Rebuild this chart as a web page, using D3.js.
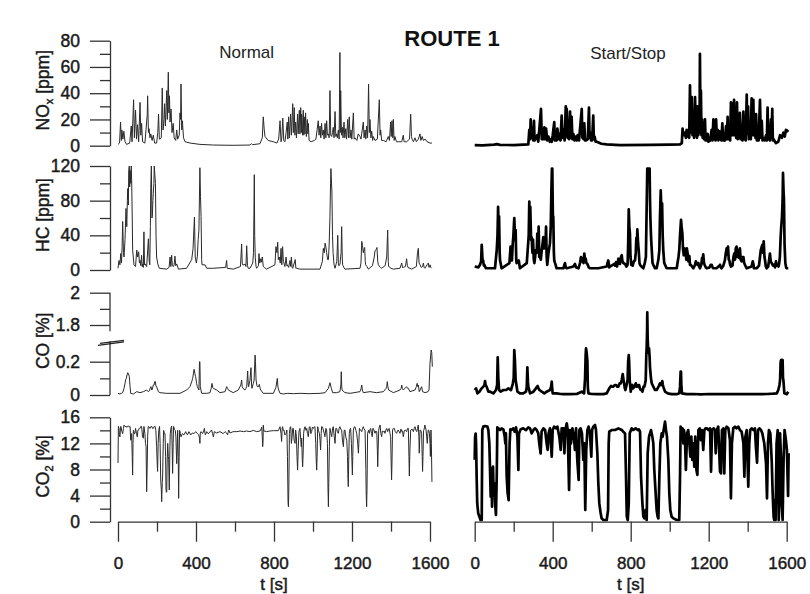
<!DOCTYPE html>
<html>
<head>
<meta charset="utf-8">
<title>Route 1</title>
<script src="https://cdn.jsdelivr.net/npm/d3@7"></script>
<style>
  body { margin: 0; background: #fff; }
  svg { font-family: "Liberation Sans", Arial, sans-serif; }
</style>
</head>
<body>
<script>
// [t (s), value] pairs
var noxNormal = [[0,1],[8,2],[13,18],[17,4],[20,12],[25,5],[30,11],[36,3],[44,1],[60,2],[68,15],[72,3],[80,35],[84,6],[90,27],[95,5],[100,16],[106,3],[113,33],[117,8],[121,17],[126,3],[138,2],[150,24],[152,38],[156,10],[159,13],[164,6],[168,9],[175,4],[181,8],[188,2],[198,2],[204,10],[208,24],[212,5],[222,6],[227,44],[231,12],[236,20],[239,32],[243,15],[247,30],[250,42],[253,20],[258,56],[261,25],[264,38],[267,18],[272,28],[277,10],[283,17],[288,6],[296,4],[301,12],[306,5],[314,8],[318,25],[321,20],[323,47],[327,12],[330,19],[336,6],[344,3],[370,2],[420,1],[490,0.5],[590,0.3],[677,0.5],[685,1.5],[690,0.8],[728,1.5],[740,6],[745,22],[750,12],[754,7],[770,4],[797,3],[815,2],[824,5],[831,19],[836,3],[840,6],[845,21],[850,4],[856,3],[862,10],[868,18],[871,5],[875,22],[879,6],[885,24],[889,8],[896,32],[899,10],[904,29],[907,8],[911,18],[915,6],[921,24],[924,9],[930,27],[933,9],[937,29],[940,10],[942,24],[946,8],[950,27],[953,8],[955,22],[959,9],[962,25],[966,7],[971,20],[974,9],[976,17],[980,4],[990,3],[1007,4],[1015,5],[1027,19],[1031,8],[1036,15],[1040,6],[1044,17],[1048,8],[1053,12],[1057,5],[1062,17],[1066,6],[1070,19],[1074,8],[1079,9],[1083,6],[1087,42],[1091,8],[1096,7],[1100,10],[1104,14],[1108,6],[1113,26],[1117,7],[1121,9],[1125,6],[1130,12],[1134,5],[1138,71],[1140,10],[1142,42],[1146,8],[1150,14],[1154,6],[1159,18],[1163,6],[1168,13],[1172,5],[1178,20],[1182,6],[1186,22],[1190,6],[1195,12],[1199,5],[1207,25],[1211,5],[1215,6],[1225,4],[1232,9],[1241,7],[1246,5],[1258,18],[1262,6],[1267,12],[1271,5],[1275,15],[1280,6],[1285,47],[1289,10],[1292,20],[1297,6],[1301,11],[1306,4],[1309,7],[1318,4],[1330,5],[1340,35],[1344,8],[1347,12],[1352,4],[1361,4],[1375,3],[1386,7],[1392,4],[1398,18],[1401,7],[1405,19],[1409,6],[1412,20],[1416,4],[1420,7],[1428,3],[1438,3],[1455,3],[1463,8],[1467,3],[1480,3],[1495,5],[1501,24],[1505,7],[1508,5],[1515,3],[1523,6],[1530,3],[1540,5],[1549,9],[1553,4],[1560,7],[1566,4],[1575,5],[1585,3],[1600,2],[1610,2]];

var noxStop = [[0,0.5],[40,0.3],[100,0.8],[113,1.2],[130,0.6],[200,0.5],[275,1],[280,12],[284,5],[287,20],[291,6],[296,13],[300,4],[304,19],[307,4],[315,6],[321,8],[326,3],[340,28],[344,5],[349,12],[353,5],[357,14],[361,5],[366,13],[372,4],[378,7],[385,3],[390,5],[395,3],[400,8],[408,18],[411,4],[415,7],[420,4],[424,13],[429,5],[434,9],[440,4],[446,23],[450,6],[455,12],[461,4],[467,30],[470,8],[472,28],[476,6],[480,14],[484,5],[489,26],[492,6],[497,22],[501,5],[506,9],[512,4],[518,7],[523,4],[528,8],[535,4],[549,28],[552,6],[554,12],[558,5],[562,17],[566,4],[571,4],[580,5],[586,29],[589,6],[593,10],[597,4],[602,4],[608,23],[611,5],[615,7],[620,3],[626,3],[650,1.5],[677,1],[745,0.5],[900,0.6],[1000,0.8],[1053,1],[1062,2],[1066,13],[1070,8],[1078,10],[1083,6],[1087,12],[1091,7],[1096,8],[1100,6],[1104,46],[1108,10],[1113,37],[1117,8],[1121,20],[1125,6],[1130,37],[1134,8],[1137,20],[1140,6],[1143,30],[1147,8],[1150,12],[1153,10],[1155,70],[1158,12],[1160,42],[1163,8],[1166,20],[1169,6],[1172,12],[1176,5],[1181,20],[1184,4],[1186,8],[1190,4],[1195,9],[1199,3],[1202,5],[1208,4],[1215,12],[1219,4],[1224,20],[1228,5],[1231,8],[1235,4],[1238,20],[1242,5],[1246,12],[1250,4],[1255,11],[1258,5],[1261,7],[1265,4],[1270,17],[1274,4],[1278,5],[1283,4],[1289,15],[1293,5],[1297,22],[1301,5],[1306,11],[1310,4],[1314,33],[1317,8],[1321,32],[1325,8],[1330,35],[1333,8],[1337,19],[1341,6],[1345,33],[1349,5],[1354,12],[1357,6],[1360,25],[1364,5],[1369,8],[1373,4],[1378,26],[1382,5],[1386,10],[1390,4],[1395,39],[1398,9],[1402,30],[1406,5],[1412,10],[1416,5],[1420,36],[1424,8],[1429,35],[1432,8],[1436,14],[1440,6],[1443,24],[1447,4],[1451,8],[1456,4],[1463,35],[1467,6],[1472,19],[1476,4],[1480,6],[1488,4],[1494,8],[1498,4],[1502,29],[1505,5],[1509,6],[1514,4],[1519,20],[1522,6],[1526,28],[1529,4],[1533,5],[1540,3],[1545,2],[1557,3],[1566,8],[1575,6],[1583,10],[1590,7],[1596,12],[1602,11],[1608,12]];

var hcNormal = [[0,2],[5,11],[10,6],[14,19],[18,8],[21,27],[24,56],[28,20],[31,15],[36,35],[41,71],[45,50],[48,80],[50,94],[53,75],[55,115],[58,120],[60,96],[62,115],[65,100],[68,120],[70,104],[73,60],[75,23],[82,6],[90,4],[96,23],[101,15],[106,21],[110,8],[113,11],[117,5],[121,17],[124,4],[127,7],[130,3],[133,44],[136,6],[139,7],[147,4],[156,36],[160,10],[163,6],[166,50],[168,94],[171,120],[174,60],[176,62],[179,80],[181,88],[184,100],[186,120],[189,110],[192,100],[195,40],[198,15],[204,7],[212,2],[250,1],[262,3],[267,15],[271,4],[275,17],[279,5],[284,4],[288,6],[292,16],[296,5],[301,7],[310,1],[352,2],[378,12],[385,25],[392,61],[396,15],[402,8],[407,16],[411,35],[415,46],[418,90],[420,118],[423,85],[426,62],[429,12],[431,6],[446,6],[455,2],[489,2],[552,3],[557,11],[560,2],[591,1],[628,4],[634,30],[637,8],[639,6],[648,6],[651,7],[656,4],[660,28],[664,5],[668,2],[677,2],[691,8],[695,20],[699,110],[701,40],[704,14],[708,4],[711,2],[720,5],[723,19],[727,8],[732,13],[736,9],[740,15],[745,4],[750,3],[762,1],[805,6],[810,27],[815,20],[819,32],[822,12],[827,15],[832,8],[836,25],[840,6],[844,27],[848,10],[851,8],[856,4],[862,15],[866,5],[868,6],[875,3],[882,11],[886,4],[889,15],[893,3],[896,2],[909,12],[912,2],[916,2],[933,1],[1036,1],[1048,10],[1053,25],[1058,20],[1062,31],[1066,27],[1070,20],[1075,12],[1079,12],[1083,30],[1087,62],[1090,100],[1092,117],[1094,105],[1097,90],[1100,40],[1103,20],[1108,6],[1113,2],[1122,10],[1127,40],[1130,8],[1132,5],[1138,6],[1144,20],[1147,50],[1150,15],[1152,6],[1158,3],[1164,1],[1241,2],[1246,8],[1250,33],[1254,28],[1258,20],[1262,24],[1265,26],[1268,10],[1270,6],[1277,4],[1284,1],[1305,5],[1314,15],[1318,22],[1321,23],[1325,24],[1328,26],[1332,10],[1335,6],[1345,3],[1352,2],[1370,5],[1378,15],[1383,46],[1386,10],[1388,4],[1400,2],[1412,1],[1446,2],[1452,6],[1455,8],[1459,3],[1463,3],[1474,4],[1480,13],[1484,5],[1487,3],[1506,1],[1530,4],[1536,20],[1540,25],[1544,8],[1549,6],[1555,3],[1562,4],[1566,8],[1570,3],[1574,2],[1585,6],[1591,8],[1595,3],[1600,6],[1604,3],[1608,2]];

var hcStop = [[0,4],[19,3],[27,6],[33,10],[36,29],[40,12],[43,11],[47,5],[49,6],[58,2],[104,2],[113,23],[117,40],[120,73],[123,40],[125,62],[128,20],[130,11],[138,2],[178,8],[184,27],[188,12],[191,11],[195,30],[198,38],[203,60],[207,35],[210,46],[213,12],[215,8],[226,11],[232,2],[267,8],[273,27],[277,40],[280,79],[283,50],[285,73],[289,35],[292,38],[296,20],[299,35],[303,12],[306,8],[310,15],[313,23],[318,20],[321,42],[325,25],[328,50],[331,15],[335,15],[339,12],[344,23],[348,30],[352,38],[356,25],[359,35],[363,30],[366,50],[369,15],[372,6],[375,12],[378,19],[382,25],[386,31],[390,50],[393,88],[396,117],[398,117],[401,60],[403,62],[406,20],[408,11],[412,8],[415,6],[420,2],[455,2],[460,6],[463,8],[467,3],[472,2],[506,4],[512,6],[514,7],[520,3],[532,2],[540,8],[545,15],[549,10],[554,13],[558,8],[562,19],[566,12],[569,13],[573,8],[578,7],[585,3],[591,2],[634,2],[677,4],[681,8],[685,11],[690,3],[694,4],[716,7],[720,5],[725,9],[730,4],[737,13],[741,8],[745,7],[750,15],[754,17],[757,11],[762,8],[771,7],[778,4],[784,6],[787,30],[790,70],[793,50],[796,42],[799,15],[803,6],[810,5],[816,10],[822,11],[826,20],[829,37],[832,30],[834,47],[838,30],[841,23],[845,8],[848,6],[855,4],[865,2],[872,8],[878,15],[881,60],[885,117],[888,117],[890,117],[893,117],[897,117],[899,81],[901,60],[904,40],[907,27],[912,8],[916,6],[925,2],[933,2],[942,12],[947,23],[950,60],[954,92],[957,70],[961,77],[964,40],[967,23],[972,8],[976,6],[984,2],[1036,2],[1045,15],[1049,23],[1053,40],[1058,58],[1061,50],[1065,42],[1068,25],[1072,17],[1075,25],[1078,19],[1082,20],[1085,12],[1088,25],[1092,19],[1096,10],[1101,16],[1104,6],[1108,6],[1121,2],[1130,6],[1134,10],[1138,8],[1143,6],[1147,8],[1151,4],[1155,2],[1162,6],[1166,14],[1169,12],[1172,18],[1176,8],[1179,6],[1185,3],[1190,2],[1205,3],[1210,6],[1215,6],[1220,3],[1224,2],[1240,2],[1250,4],[1258,6],[1262,3],[1266,2],[1275,5],[1283,11],[1288,20],[1292,25],[1296,18],[1299,27],[1303,12],[1306,11],[1310,6],[1314,4],[1322,5],[1327,15],[1331,19],[1335,12],[1339,25],[1343,27],[1347,15],[1352,23],[1356,14],[1360,25],[1364,12],[1369,10],[1373,15],[1378,15],[1382,8],[1386,6],[1395,2],[1420,4],[1426,10],[1430,6],[1432,2],[1446,2],[1458,5],[1463,15],[1467,23],[1471,26],[1475,29],[1478,20],[1482,33],[1486,15],[1489,11],[1493,4],[1497,2],[1505,4],[1510,12],[1514,19],[1518,10],[1523,8],[1530,5],[1535,6],[1540,3],[1545,10],[1549,5],[1554,6],[1558,4],[1561,7],[1565,15],[1569,38],[1572,50],[1576,62],[1579,80],[1581,112],[1584,90],[1586,81],[1589,30],[1593,8],[1597,3],[1600,2],[1608,2]];

var coNormal = [[0,0.01],[10,0.006],[24,0.014],[31,0.04],[36,0.07],[39,0.09],[43,0.1],[46,0.12],[50,0.134],[53,0.13],[58,0.11],[62,0.05],[65,0.01],[79,0.006],[96,0.02],[113,0.014],[130,0.02],[147,0.03],[155,0.02],[161,0.025],[165,0.04],[169,0.05],[173,0.03],[176,0.035],[181,0.06],[185,0.06],[188,0.08],[192,0.08],[195,0.05],[198,0.05],[207,0.02],[215,0.014],[250,0.01],[318,0.01],[352,0.03],[369,0.05],[378,0.08],[383,0.1],[390,0.154],[394,0.13],[398,0.11],[403,0.07],[407,0.05],[415,0.03],[418,0.2],[420,0.2],[422,0.05],[429,0.01],[455,0.01],[472,0.014],[478,0.04],[482,0.07],[486,0.045],[489,0.04],[506,0.03],[523,0.014],[549,0.02],[557,0.05],[562,0.04],[566,0.03],[591,0.014],[617,0.03],[630,0.06],[634,0.09],[637,0.05],[641,0.04],[651,0.03],[656,0.04],[660,0.05],[665,0.144],[668,0.06],[670,0.05],[677,0.09],[682,0.164],[685,0.06],[687,0.04],[694,0.07],[698,0.09],[703,0.49],[705,0.2],[708,0.09],[712,0.06],[715,0.05],[720,0.05],[725,0.064],[729,0.04],[732,0.03],[745,0.01],[797,0.01],[810,0.046],[817,0.1],[820,0.05],[824,0.03],[831,0.01],[848,0.006],[870,0.01],[900,0.008],[933,0.01],[980,0.008],[1036,0.01],[1062,0.014],[1079,0.04],[1087,0.074],[1090,0.06],[1094,0.04],[1101,0.014],[1121,0.014],[1138,0.02],[1143,0.06],[1145,0.14],[1147,0.06],[1149,0.03],[1164,0.014],[1190,0.01],[1241,0.02],[1247,0.04],[1250,0.06],[1253,0.03],[1258,0.014],[1292,0.02],[1326,0.014],[1361,0.02],[1375,0.04],[1378,0.05],[1381,0.08],[1384,0.05],[1388,0.03],[1412,0.014],[1446,0.03],[1452,0.04],[1455,0.06],[1458,0.04],[1463,0.03],[1480,0.05],[1485,0.04],[1489,0.04],[1497,0.02],[1523,0.03],[1530,0.05],[1534,0.07],[1538,0.05],[1540,0.06],[1545,0.02],[1557,0.05],[1562,0.02],[1575,0.014],[1590,0.02],[1595,0.03],[1600,0.19],[1606,0.71],[1609,0.6],[1612,0.17]];

var coStop = [[0,0.03],[7,0.04],[14,0.01],[24,0.02],[36,0.04],[44,0.05],[50,0.06],[53,0.084],[56,0.06],[61,0.05],[70,0.02],[79,0.02],[96,0.01],[109,0.03],[115,0.06],[118,0.39],[121,0.1],[125,0.03],[133,0.02],[147,0.03],[161,0.03],[173,0.04],[186,0.03],[195,0.066],[200,0.1],[203,0.71],[206,0.3],[210,0.09],[219,0.02],[232,0.01],[249,0.01],[263,0.02],[267,0.05],[270,0.166],[273,0.08],[275,0.05],[284,0.01],[301,0.02],[314,0.04],[319,0.05],[323,0.054],[327,0.04],[332,0.03],[344,0.02],[357,0.01],[369,0.02],[386,0.03],[392,0.05],[395,0.08],[398,0.03],[400,0.01],[420,0.01],[440,0.006],[455,0.005],[489,0.005],[523,0.006],[549,0.02],[561,0.01],[566,0.1],[569,0.5],[571,0.78],[574,0.6],[578,0.21],[580,0.05],[583,0.01],[600,0.006],[626,0.005],[660,0.005],[677,0.01],[690,0.04],[699,0.054],[705,0.05],[711,0.05],[718,0.06],[725,0.06],[731,0.05],[737,0.05],[743,0.07],[749,0.07],[754,0.09],[759,0.126],[762,0.1],[766,0.07],[770,0.04],[773,0.03],[779,0.06],[784,0.09],[787,0.2],[790,0.49],[792,0.2],[795,0.09],[800,0.02],[804,0.05],[808,0.06],[813,0.04],[819,0.05],[826,0.07],[830,0.05],[834,0.05],[839,0.06],[843,0.06],[847,0.04],[851,0.03],[856,0.03],[860,0.02],[866,0.05],[870,0.05],[874,0.07],[877,0.09],[880,0.5],[882,0.85],[884,1.5],[885,1.878],[887,1.2],[889,0.85],[892,0.6],[894,0.78],[897,0.4],[899,0.166],[904,0.1],[908,0.07],[912,0.06],[916,0.05],[925,0.03],[933,0.03],[943,0.05],[950,0.07],[956,0.06],[962,0.084],[965,0.06],[967,0.05],[976,0.02],[990,0.01],[1010,0.005],[1036,0.005],[1049,0.01],[1053,0.05],[1056,0.14],[1058,0.14],[1060,0.05],[1063,0.01],[1087,0.005],[1120,0.006],[1160,0.004],[1200,0.006],[1250,0.005],[1300,0.006],[1350,0.005],[1400,0.006],[1450,0.005],[1500,0.006],[1530,0.008],[1549,0.01],[1557,0.03],[1563,0.06],[1566,0.09],[1569,0.2],[1571,0.27],[1575,0.28],[1579,0.27],[1581,0.1],[1583,0.09],[1588,0.01],[1600,0.005],[1608,0.02]];

var co2Normal = [[0,9],[2,14.6],[5,14.3],[7,13.3],[10,13],[13,14.5],[15,14.6],[20,13.8],[24,13.5],[28,14.3],[31,14.8],[36,14.6],[41,14.6],[47,14.5],[53,14.7],[58,14.5],[62,14.6],[65,12.5],[67,12.5],[70,13.5],[73,10],[75,7.15],[77,12],[79,14],[84,13.5],[87,13.5],[90,14.3],[95,13.5],[99,13],[102,14],[104,14],[109,14.3],[113,14.3],[117,14.6],[121,14.6],[126,13],[130,12.8],[133,14.6],[138,13.5],[141,12],[144,11.5],[147,4.6],[150,9],[152,13],[155,14.6],[160,14.5],[164,14.3],[169,14.6],[173,14.6],[177,14.3],[181,14.3],[186,14.6],[190,14.6],[194,14],[198,11.5],[201,9],[203,7.7],[206,12],[209,14],[213,14.6],[216,12],[219,6.4],[222,5],[224,3.07],[227,6],[229,7],[232,12],[234,14],[238,13.5],[241,13.5],[244,10],[246,5],[248,4.5],[250,4.6],[252,9],[255,12],[258,10],[260,9.5],[262,6],[263,4.85],[266,11],[268,13.5],[272,14.4],[275,14.67],[278,11],[280,7.4],[283,12],[285,14.6],[290,14.1],[294,14],[297,13],[301,8.9],[304,11],[306,14],[309,10],[311,3.58],[313,9],[316,14],[320,13.5],[323,13],[330,13.5],[338,13.3],[347,13.8],[356,13.3],[364,13.8],[373,13.3],[381,13.6],[390,13.5],[398,13.8],[407,13.5],[414,13.3],[418,12.8],[420,12],[422,13.6],[426,13.8],[434,13.5],[440,14],[443,14.3],[446,13.6],[448,13.3],[455,13.8],[462,13.5],[468,13.6],[475,13.9],[480,14.05],[485,13.5],[489,13],[491,13.3],[494,13.8],[506,13.6],[523,13.8],[540,13.5],[549,13.8],[557,13.6],[562,13.3],[565,13.7],[568,14.05],[574,13.6],[591,13.8],[609,13.8],[626,13.9],[643,13.8],[660,13.9],[677,13.8],[694,14],[711,13.8],[728,13.9],[735,14.3],[737,14.5],[740,13],[742,11.5],[744,12.5],[745,14.8],[748,13.9],[762,13.8],[779,13.9],[797,13.95],[822,13.95],[831,14.56],[836,13.5],[839,12.3],[842,14.3],[844,14.56],[848,14],[851,14.05],[856,13.3],[862,13.54],[866,14.05],[869,10],[872,3],[874,2.3],[876,5],[879,13.54],[883,14.5],[886,14.56],[889,12],[892,12.8],[896,14.3],[899,14.3],[903,12.5],[908,12],[911,14.05],[915,13],[918,10],[921,7.9],[924,11],[928,13.8],[933,14.3],[937,12.6],[940,11.5],[942,12.8],[945,9.5],[947,8.43],[950,11],[952,13.54],[955,14.2],[959,14.56],[964,14],[968,14.3],[972,13.5],[976,13.03],[981,14.5],[985,14.56],[989,13.5],[993,13.8],[997,14.5],[1002,14.3],[1006,14.5],[1010,14.56],[1014,12],[1017,9],[1019,7.9],[1021,10],[1024,14.56],[1028,14],[1033,13.54],[1036,12.5],[1039,11],[1042,13.5],[1044,14.56],[1049,14.5],[1053,14.05],[1058,13.5],[1061,13.03],[1066,14.3],[1070,14.05],[1074,12],[1077,5],[1079,2.3],[1081,6],[1084,11.5],[1087,14.3],[1092,13.5],[1096,13.03],[1100,14.2],[1104,14.56],[1109,13],[1113,12],[1117,14.3],[1121,14.3],[1125,13.8],[1130,13.54],[1134,14.3],[1138,14.56],[1142,14.2],[1147,14.05],[1151,12.5],[1156,11.5],[1160,14],[1164,14.05],[1168,13],[1173,12.5],[1177,10],[1179,7],[1181,5.37],[1183,9],[1186,13.54],[1190,14.2],[1193,14.3],[1197,12],[1200,9],[1202,7.15],[1204,10],[1207,14.05],[1211,14.5],[1215,14.56],[1220,14],[1224,13.54],[1228,12.5],[1233,10.5],[1235,12],[1238,14.3],[1244,14],[1250,13.8],[1254,14.3],[1258,14.56],[1262,14.2],[1267,14.05],[1271,8],[1273,4],[1275,2.3],[1277,5],[1280,13.54],[1285,14],[1289,13.54],[1293,14.2],[1296,14.3],[1300,13.5],[1304,13.03],[1307,14.3],[1309,14.3],[1314,13.9],[1318,13.54],[1322,13.9],[1327,13.8],[1330,11],[1332,8.43],[1334,11],[1337,14.05],[1340,14.5],[1344,14.82],[1348,13.5],[1352,13.03],[1356,13.9],[1361,13.8],[1365,13.9],[1369,13.54],[1373,14],[1378,14.3],[1383,13.8],[1387,14.2],[1391,14.3],[1395,13.5],[1398,13.03],[1401,9],[1403,6.4],[1405,9],[1408,14.05],[1412,14.3],[1417,14.3],[1422,13.8],[1429,13.54],[1433,13.9],[1437,14.05],[1442,13.8],[1446,13.54],[1451,14.2],[1455,13.8],[1459,13.9],[1463,13.03],[1468,13.9],[1472,14.05],[1476,14],[1480,13.8],[1485,14.3],[1489,14.3],[1492,10],[1494,7],[1497,11],[1501,14.05],[1508,14.2],[1515,13.8],[1519,14.3],[1523,14.56],[1528,14],[1532,13.8],[1536,14.3],[1540,14.82],[1543,13],[1545,10.5],[1547,12.5],[1549,14.05],[1553,14],[1557,13.54],[1560,10],[1562,7.7],[1564,10],[1567,14],[1569,14.05],[1572,14.5],[1574,14.82],[1577,14.3],[1579,14.3],[1583,13],[1586,12],[1589,13.5],[1591,14.05],[1594,14],[1597,13.54],[1600,12],[1602,10],[1605,14.05],[1607,12],[1610,6.1]];

var co2Stop = [[0,9.5],[2,13],[5,13.5],[7,12],[10,6.9],[13,2.8],[18,1.3],[24,0.77],[30,0.26],[36,0.26],[39,14.05],[44,14.57],[53,14.67],[65,14.57],[70,14.05],[75,12],[78,8.7],[82,3.84],[85,8.2],[89,2.3],[94,8.43],[97,4.35],[102,5.88],[106,2.3],[109,1.03],[113,6.9],[116,14.46],[121,14.31],[130,14.05],[138,14.31],[147,14.16],[154,13.03],[157,12],[160,13.54],[164,6.9],[169,4.35],[174,3.3],[179,12],[183,14.16],[188,14.05],[198,14.31],[205,13.8],[212,14.46],[219,13.03],[224,7.92],[227,13.54],[236,14.16],[249,14.31],[263,14.05],[275,14.46],[284,14.31],[292,13.54],[301,14.05],[309,14.31],[318,14.05],[326,13.54],[331,12],[338,10.48],[343,13.8],[352,14.31],[361,14.05],[369,12],[374,11],[379,13.54],[386,14.31],[395,9.97],[400,14.05],[407,14.57],[417,14.31],[424,14.57],[434,13.03],[441,11],[446,14.31],[455,14.31],[460,10.48],[465,14.05],[472,15.08],[477,14.05],[484,4.86],[489,14.05],[494,12],[501,14.31],[509,13.03],[514,11],[520,14.31],[526,9.46],[533,6.4],[537,14.05],[543,14.31],[550,13.54],[557,9.46],[562,12],[567,1.8],[572,11],[578,14.05],[584,14.57],[591,13.54],[598,9.97],[602,14.05],[608,14.57],[617,14.82],[622,14.05],[629,10.48],[634,5.88],[639,2.8],[646,1.28],[651,0.51],[660,0.26],[668,0.26],[677,0.26],[684,1.8],[687,12],[690,13.8],[702,14.05],[720,14.05],[737,14.31],[754,14.05],[762,13.8],[771,13.54],[776,6.9],[780,0.77],[785,0.26],[790,2.8],[795,13.54],[805,14.31],[813,14.05],[825,14.31],[836,14.05],[842,14.16],[848,13.8],[853,6.9],[860,2.8],[865,0.77],[870,0.51],[877,1.8],[882,0.26],[887,10.48],[894,13.03],[899,13.54],[904,14.05],[911,13.03],[916,12],[921,7.92],[928,4.35],[933,1.8],[938,0.77],[942,0.51],[947,6.9],[952,12],[959,13.54],[964,13.03],[969,14.05],[976,15.33],[981,14.05],[986,13.03],[993,9.46],[998,4.35],[1003,1.8],[1010,0.77],[1019,0.51],[1027,0.4],[1036,0.26],[1044,0.26],[1049,0.26],[1053,6.9],[1056,14.57],[1061,14.05],[1066,14.31],[1070,12],[1073,14.05],[1078,13.03],[1083,7.92],[1089,13.54],[1095,14.05],[1101,12],[1106,9.97],[1111,13.03],[1116,9.46],[1121,12],[1126,8.43],[1131,13.03],[1137,7.92],[1142,7.16],[1147,14.05],[1154,14.31],[1160,12.5],[1166,14.05],[1172,11],[1178,14.05],[1184,14.31],[1191,14.31],[1198,14.05],[1207,14.31],[1212,7.67],[1217,14.05],[1225,14.31],[1232,14.05],[1236,10.48],[1241,14.05],[1249,14.57],[1258,7.67],[1263,7.4],[1268,14.05],[1275,14.31],[1280,7.4],[1285,14.05],[1292,14.57],[1301,14.31],[1309,12.5],[1314,3.58],[1319,12],[1326,14.31],[1335,14.57],[1343,14.31],[1352,14.57],[1360,14.05],[1369,13.8],[1378,12],[1383,6.9],[1388,13.03],[1395,14.05],[1403,5.37],[1408,12],[1413,14.05],[1420,14.31],[1429,14.05],[1437,14.31],[1442,11.5],[1448,9.05],[1453,14.05],[1460,14.31],[1468,14.05],[1475,13.54],[1485,12],[1494,8.95],[1499,3.58],[1504,12],[1509,14.05],[1516,13.54],[1523,9.46],[1528,4.35],[1533,0.77],[1536,0.26],[1540,3.3],[1543,0.26],[1548,12],[1554,14.05],[1559,0.26],[1562,2.8],[1566,13.54],[1571,9.46],[1574,3.58],[1579,0.26],[1584,9.46],[1589,14.05],[1596,12.5],[1601,11],[1607,3.94],[1610,10.48]];

var tMajor = [0, 400, 800, 1200, 1600];
var tMinor = [200, 600, 1000, 1400];
var noxMajor = [0, 20, 40, 60, 80], noxMinor = [10, 30, 50, 70];
var hcMajor = [0, 40, 80, 120], hcMinor = [20, 60, 100];
var coMajor = [0, 0.2, 1.8, 2], coMinor = [0.1, 1.9];
var co2Major = [0, 4, 8, 12, 16], co2Minor = [2, 6, 10, 14];
var columnTitles = ["Normal", "Start/Stop"];
var title = "ROUTE 1";

var width = 810, height = 594;
var font = "Liberation Sans, Arial, sans-serif";
var ink = "#1a1a1a";

var svg = d3.select("body").append("svg")
  .attr("width", width)
  .attr("height", height);

svg.append("rect").attr("width", width).attr("height", height).attr("fill", "#fff");

var xLeft = d3.scaleLinear().domain([0, 1600]).range([118, 430]);
var xRight = d3.scaleLinear().domain([0, 1600]).range([474.7, 786.7]);

var yNox = d3.scaleLinear().domain([0, 80]).range([145.7, 40.7]);
var yHc = d3.scaleLinear().domain([0, 120]).range([270, 166]);
// broken CO axis: 0-0.2 and 1.8-2 shown, the middle squeezed
var yCo = d3.scaleLinear().domain([0, 0.2, 1.8, 2]).range([395, 361.7, 325, 292.7]);
var yCo2 = d3.scaleLinear().domain([0, 16]).range([521.7, 417.3]);

var rows = [
  {y: yNox, normal: noxNormal, stop: noxStop, major: noxMajor, minor: noxMinor, label: ["NO", "x", " [ppm]"]},
  {y: yHc, normal: hcNormal, stop: hcStop, major: hcMajor, minor: hcMinor, label: ["HC [ppm]"]},
  {y: yCo, normal: coNormal, stop: coStop, major: coMajor, minor: coMinor, label: ["CO [%]"], broken: true},
  {y: yCo2, normal: co2Normal, stop: co2Stop, major: co2Major, minor: co2Minor, label: ["CO", "2", " [%]"]}
];

// slightly heavier text, the source is a scaled-down scan
function heavy(sel) {
  sel.attr("fill", ink).attr("stroke", ink).attr("stroke-width", 0.45);
}

function styleAxis(g, size) {
  g.attr("font-size", size).attr("font-family", font).attr("color", "#2a2a2a");
  g.selectAll("line, path").attr("stroke", "#333").attr("stroke-width", 1.3);
  heavy(g.selectAll("text"));
}

rows.forEach(function (row) {
  var y = row.y;

  // y axis, major + minor ticks
  var g = svg.append("g").attr("transform", "translate(110,0)");
  g.call(d3.axisLeft(y).tickValues(row.major).tickSize(20).tickSizeOuter(0).tickPadding(10)
    .tickFormat(function (d) { return d3.format("~g")(d); }));
  g.append("g").call(d3.axisLeft(y).tickValues(row.minor).tickSize(10).tickFormat(""))
    .select(".domain").remove();
  styleAxis(g, 17.5);

  if (row.broken) {
    g.select(".domain").remove();
    var yb = y(1.0);
    g.append("line").attr("x1", 0).attr("x2", 0).attr("y1", y(2)).attr("y2", yb - 12)
      .attr("stroke", "#333").attr("stroke-width", 1.3);
    g.append("line").attr("x1", 0).attr("x2", 0).attr("y1", yb - 2).attr("y2", y(0))
      .attr("stroke", "#333").attr("stroke-width", 1.3);
    g.append("line").attr("x1", -12).attr("y1", yb + 2).attr("x2", 14).attr("y2", yb - 1.5)
      .attr("stroke", "#222").attr("stroke-width", 1.4);
    g.append("line").attr("x1", -10).attr("y1", yb).attr("x2", 14).attr("y2", yb - 3)
      .attr("stroke", "#222").attr("stroke-width", 1.2);
  }

  // rotated axis title with optional subscript
  var cy = (y.range()[0] + y.range()[y.range().length - 1]) / 2 - 3;
  var lab = svg.append("text")
    .attr("transform", "translate(49," + cy + ") rotate(-90)")
    .attr("text-anchor", "middle")
    .attr("font-family", font)
    .attr("font-size", 17.5)
    .call(heavy);
  if (row.label.length === 1) {
    lab.text(row.label[0]);
  } else {
    lab.append("tspan").text(row.label[0]);
    lab.append("tspan").attr("font-size", 11).attr("dy", 4).text(row.label[1]);
    lab.append("tspan").attr("dy", -4).text(row.label[2]);
  }

  // the two traces
  svg.append("path")
    .datum(row.normal)
    .attr("fill", "none")
    .attr("stroke", "#2a2a2a")
    .attr("stroke-width", 1)
    .attr("stroke-linejoin", "round")
    .attr("d", d3.line().x(function (d) { return xLeft(d[0]); }).y(function (d) { return y(d[1]); }));

  svg.append("path")
    .datum(row.stop)
    .attr("fill", "none")
    .attr("stroke", "#000")
    .attr("stroke-width", 2.7)
    .attr("stroke-linejoin", "round")
    .attr("d", d3.line().x(function (d) { return xRight(d[0]); }).y(function (d) { return y(d[1]); }));
});

// time axes under both columns
[xLeft, xRight].forEach(function (x) {
  var g = svg.append("g").attr("transform", "translate(0," + yCo2(0) + ")");
  g.call(d3.axisBottom(x).tickValues(tMajor).tickSize(20).tickSizeOuter(0).tickPadding(15)
    .tickFormat(d3.format("d")));
  g.append("g").call(d3.axisBottom(x).tickValues(tMinor).tickSize(10).tickFormat(""))
    .select(".domain").remove();
  styleAxis(g, 17);

  svg.append("text")
    .attr("x", x(800))
    .attr("y", 590)
    .attr("text-anchor", "middle")
    .attr("font-family", font)
    .attr("font-size", 17)
    .call(heavy)
    .text("t [s]");
});

// titles
svg.append("text")
  .attr("x", 452).attr("y", 46)
  .attr("text-anchor", "middle")
  .attr("font-family", font)
  .attr("font-size", 22)
  .attr("font-weight", "bold")
  .attr("fill", "#111")
  .text(title);

svg.selectAll(".coltitle")
  .data(columnTitles)
  .enter().append("text")
  .attr("class", "coltitle")
  .attr("x", function (d, i) { return i === 0 ? 246.7 : 628; })
  .attr("y", function (d, i) { return i === 0 ? 58 : 59; })
  .attr("text-anchor", "middle")
  .attr("font-family", font)
  .attr("font-size", 17)
  .attr("fill", "#222")
  .text(function (d) { return d; });
</script>
</body>
</html>
